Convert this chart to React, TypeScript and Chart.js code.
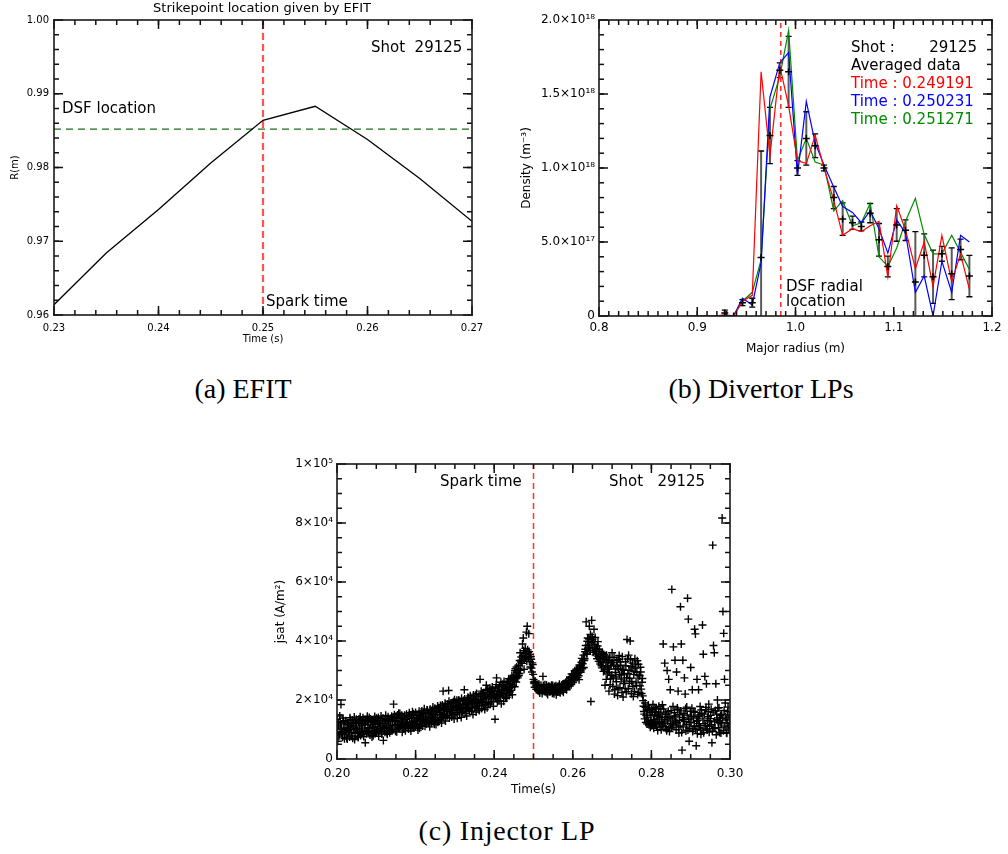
import React, { useEffect, useRef } from "react";
import { Chart, registerables } from "chart.js";
Chart.register(...registerables);

const SANS = '"DejaVu Sans", "Liberation Sans", sans-serif';

// ---------------- (a) EFIT ----------------
const efitTime = [0.23, 0.235, 0.24, 0.245, 0.25, 0.255, 0.26, 0.265, 0.27];
const efitR = [0.9614, 0.9684, 0.9743, 0.9806, 0.9864, 0.9883, 0.9838, 0.9785, 0.9727];
const efitTimeRange = [0.23, 0.27];
const efitRRange = [0.96, 1.0];
const efitTimeTicks = [0.23, 0.24, 0.25, 0.26, 0.27];
const efitTimeTickLabels = ["0.23", "0.24", "0.25", "0.26", "0.27"];
const efitRTicks = [0.96, 0.97, 0.98, 0.99, 1.0];
const efitRTickLabels = ["0.96", "0.97", "0.98", "0.99", "1.00"];
const dsfLocationR = 0.9852;
const sparkTime = 0.25;

// ---------------- (b) Divertor LPs ----------------
const probeR = [
  0.891, 0.9, 0.909, 0.919, 0.928, 0.937, 0.946, 0.956, 0.965, 0.974, 0.984, 0.993,
  1.002, 1.011, 1.02, 1.029, 1.039, 1.048, 1.058, 1.067, 1.076, 1.085, 1.094, 1.103,
  1.112, 1.122, 1.131, 1.14, 1.149, 1.159, 1.168, 1.177,
];
// densities in units of 1e18 m^-3
const densT1 = [
  0, 0, 0, 0, 0.01, 0, 0.1, 0.14, 1.65, 1.08, 1.69, 1.42, 1.05, 1.03, 1.22, 1.0, 0.78,
  0.545, 0.59, 0.57, 0.61, 0.64, 0.265, 0.745, 0.58, 0.32, 0.5, 0.2, 0.545, 0.23, 0.42, 0.18,
];
const densT2 = [
  0, 0, 0, 0, 0, 0, 0.12, 0.075, 0.36, 1.48, 1.71, 1.78, 0.95, 1.45, 1.17, 1.02, 0.87,
  0.74, 0.7, 0.63, 0.71, 0.59, 0.425, 0.65, 0.56, 0.16, 0.27, 0.0, 0.37, 0.16, 0.545, 0.5,
];
const densT3 = [
  0, 0, 0, 0, 0, 0, 0.1, 0.16, 0.38, 1.4, 1.62, 1.93, 1.05, 1.2, 1.04, 1.02, 0.71,
  0.78, 0.61, 0.63, 0.76, 0.4, 0.335, 0.46, 0.64, 0.795, 0.55, 0.42, 0.42, 0.545, 0.43, 0.315,
];
const densAvg = [
  null, null, null, null, 0.02, 0.0, 0.09, 0.09, 0.395, 1.22, 1.66, 1.65, 1.0, 1.2, 1.15, 1.0,
  0.8, 0.655, 0.63, 0.605, 0.695, 0.515, 0.335, 0.615, 0.58, 0.23, 0.41, 0.265, 0.42, 0.285, 0.45, 0.27,
];
const densErr = [
  0, 0, 0, 0, 0.02, 0, 0.02, 0.03, 0.72, 0.19, 0.05, 0.24, 0.05, 0.18, 0.08, 0.02,
  0.075, 0.11, 0.045, 0.03, 0.065, 0.11, 0.07, 0.11, 0.07, 0.34, 0.145, 0.18, 0.05, 0.175, 0.07, 0.14,
];
const probeTimes = ["0.249191", "0.250231", "0.251271"];
const probeColors = ["#ff0000", "#0000ff", "#008a00"];
const radiusRange = [0.8, 1.2];
const densityRange = [0, 2.0];
const radiusTicks = [0.8, 0.9, 1.0, 1.1, 1.2];
const radiusTickLabels = ["0.8", "0.9", "1.0", "1.1", "1.2"];
const densityTicks = [0, 0.5, 1.0, 1.5, 2.0];
const densityTickLabels = ["0", "5.0×10¹⁷", "1.0×10¹⁸", "1.5×10¹⁸", "2.0×10¹⁸"];
const dsfRadialR = 0.985;
const shotNumber = "29125";

// ---------------- (c) Injector LP ----------------
const jsatTimeMs = [
  200.0,200.2,200.4,200.6,200.8,201.0,201.2,201.4,201.6,201.8,
  202.0,202.2,202.4,202.6,202.8,203.0,203.2,203.4,203.6,203.8,
  204.0,204.2,204.4,204.6,204.8,205.0,205.2,205.4,205.6,205.8,
  206.0,206.2,206.4,206.6,206.8,207.0,207.2,207.4,207.6,207.8,
  208.0,208.2,208.4,208.6,208.8,209.0,209.2,209.4,209.6,209.8,
  210.0,210.2,210.4,210.6,210.8,211.0,211.2,211.4,211.6,211.8,
  212.0,212.2,212.4,212.6,212.8,213.0,213.2,213.4,213.6,213.8,
  214.0,214.2,214.4,214.6,214.8,215.0,215.2,215.4,215.6,215.8,
  216.0,216.2,216.4,216.6,216.8,217.0,217.2,217.4,217.6,217.8,
  218.0,218.2,218.4,218.6,218.8,219.0,219.2,219.4,219.6,219.8,
  220.0,220.2,220.4,220.6,220.8,221.0,221.2,221.4,221.6,221.8,
  222.0,222.2,222.4,222.6,222.8,223.0,223.2,223.4,223.6,223.8,
  224.0,224.2,224.4,224.6,224.8,225.0,225.2,225.4,225.6,225.8,
  226.0,226.2,226.4,226.6,226.8,227.0,227.2,227.4,227.6,227.8,
  228.0,228.2,228.4,228.6,228.8,229.0,229.2,229.4,229.6,229.8,
  230.0,230.2,230.4,230.6,230.8,231.0,231.2,231.4,231.6,231.8,
  232.0,232.2,232.4,232.6,232.8,233.0,233.2,233.4,233.6,233.8,
  234.0,234.2,234.4,234.6,234.8,235.0,235.2,235.4,235.6,235.8,
  236.0,236.2,236.4,236.6,236.8,237.0,237.2,237.4,237.6,237.8,
  238.0,238.2,238.4,238.6,238.8,239.0,239.2,239.4,239.6,239.8,
  240.0,240.2,240.4,240.6,240.8,241.0,241.2,241.4,241.6,241.8,
  242.0,242.2,242.4,242.6,242.8,243.0,243.2,243.4,243.6,243.8,
  244.0,244.2,244.4,244.6,244.8,245.0,245.2,245.4,245.6,245.8,
  246.0,246.2,246.4,246.6,246.8,247.0,247.2,247.4,247.6,247.8,
  248.0,248.2,248.4,248.6,248.8,249.0,249.2,249.4,249.6,249.8,
  250.0,250.2,250.4,250.6,250.8,251.0,251.2,251.4,251.6,251.8,
  252.0,252.2,252.4,252.6,252.8,253.0,253.2,253.4,253.6,253.8,
  254.0,254.2,254.4,254.6,254.8,255.0,255.2,255.4,255.6,255.8,
  256.0,256.2,256.4,256.6,256.8,257.0,257.2,257.4,257.6,257.8,
  258.0,258.2,258.4,258.6,258.8,259.0,259.2,259.4,259.6,259.8,
  260.0,260.2,260.4,260.6,260.8,261.0,261.2,261.4,261.6,261.8,
  262.0,262.2,262.4,262.6,262.8,263.0,263.2,263.4,263.6,263.8,
  264.0,264.2,264.4,264.6,264.8,265.0,265.2,265.4,265.6,265.8,
  266.0,266.2,266.4,266.6,266.8,267.0,267.2,267.4,267.6,267.8,
  268.0,268.2,268.4,268.6,268.8,269.0,269.2,269.4,269.6,269.8,
  270.0,270.2,270.4,270.6,270.8,271.0,271.2,271.4,271.6,271.8,
  272.0,272.2,272.4,272.6,272.8,273.0,273.2,273.4,273.6,273.8,
  274.0,274.2,274.4,274.6,274.8,275.0,275.2,275.4,275.6,275.8,
  276.0,276.2,276.4,276.6,276.8,277.0,277.2,277.4,277.6,277.8,
  278.0,278.2,278.4,278.6,278.8,279.0,279.2,279.4,279.6,279.8,
  280.0,280.2,280.4,280.6,280.8,281.0,281.2,281.4,281.6,281.8,
  282.0,282.2,282.4,282.6,282.8,283.0,283.2,283.4,283.6,283.8,
  284.0,284.2,284.4,284.6,284.8,285.0,285.2,285.4,285.6,285.8,
  286.0,286.2,286.4,286.6,286.8,287.0,287.2,287.4,287.6,287.8,
  288.0,288.2,288.4,288.6,288.8,289.0,289.2,289.4,289.6,289.8,
  290.0,290.2,290.4,290.6,290.8,291.0,291.2,291.4,291.6,291.8,
  292.0,292.2,292.4,292.6,292.8,293.0,293.2,293.4,293.6,293.8,
  294.0,294.2,294.4,294.6,294.8,295.0,295.2,295.4,295.6,295.8,
  296.0,296.2,296.4,296.6,296.8,297.0,297.2,297.4,297.6,297.8,
  298.0,298.2,298.4,298.6,298.8,299.0,299.2,299.4,299.6,299.8,
  300.0,
  200.1,200.3,200.5,200.7,200.9,201.1,201.3,201.5,201.7,201.9,
  202.1,202.3,202.5,202.7,202.9,203.1,203.3,203.5,203.7,203.9,
  204.1,204.3,204.5,204.7,204.9,205.1,205.3,205.5,205.7,205.9,
  206.1,206.3,206.5,206.7,206.9,207.1,207.3,207.5,207.7,207.9,
  208.1,208.3,208.5,208.7,208.9,209.1,209.3,209.5,209.7,209.9,
  210.1,210.3,210.5,210.7,210.9,211.1,211.3,211.5,211.7,211.9,
  212.1,212.3,212.5,212.7,212.9,213.1,213.3,213.5,213.7,213.9,
  214.1,214.3,214.5,214.7,214.9,215.1,215.3,215.5,215.7,215.9,
  216.1,216.3,216.5,216.7,216.9,217.1,217.3,217.5,217.7,217.9,
  218.1,218.3,218.5,218.7,218.9,219.1,219.3,219.5,219.7,219.9,
  220.1,220.3,220.5,220.7,220.9,221.1,221.3,221.5,221.7,221.9,
  222.1,222.3,222.5,222.7,222.9,223.1,223.3,223.5,223.7,223.9,
  224.1,224.3,224.5,224.7,224.9,225.1,225.3,225.5,225.7,225.9,
  226.1,226.3,226.5,226.7,226.9,227.1,227.3,227.5,227.7,227.9,
  228.1,228.3,228.5,228.7,228.9,229.1,229.3,229.5,229.7,229.9,
  230.1,230.3,230.5,230.7,230.9,231.1,231.3,231.5,231.7,231.9,
  232.1,232.3,232.5,232.7,232.9,233.1,233.3,233.5,233.7,233.9,
  234.1,234.3,234.5,234.7,234.9,235.1,235.3,235.5,235.7,235.9,
  236.1,236.3,236.5,236.7,236.9,237.1,237.3,237.5,237.7,237.9,
  238.1,238.3,238.5,238.7,238.9,239.1,239.3,239.5,239.7,239.9,
  240.1,240.3,240.5,240.7,240.9,241.1,241.3,241.5,241.7,241.9,
  242.1,242.3,242.5,242.7,242.9,243.1,243.3,243.5,243.7,243.9,
  244.1,244.3,244.5,244.7,244.9,245.1,245.3,245.5,245.7,245.9,
  246.1,246.3,246.5,246.7,246.9,247.1,247.3,247.5,247.7,247.9,
  248.1,248.3,248.5,248.7,248.9,249.1,249.3,249.5,249.7,249.9,
  250.1,250.3,250.5,250.7,250.9,251.1,251.3,251.5,251.7,251.9,
  252.1,252.3,252.5,252.7,252.9,253.1,253.3,253.5,253.7,253.9,
  254.1,254.3,254.5,254.7,254.9,255.1,255.3,255.5,255.7,255.9,
  256.1,256.3,256.5,256.7,256.9,257.1,257.3,257.5,257.7,257.9,
  258.1,258.3,258.5,258.7,258.9,259.1,259.3,259.5,259.7,259.9,
  260.1,260.3,260.5,260.7,260.9,261.1,261.3,261.5,261.7,261.9,
  262.1,262.3,262.5,262.7,262.9,263.1,263.3,263.5,263.7,263.9,
  264.1,264.3,264.5,264.7,264.9,265.1,265.3,265.5,265.7,265.9,
  266.1,266.3,266.5,266.7,266.9,267.1,267.3,267.5,267.7,267.9,
  268.1,268.3,268.5,268.7,268.9,269.1,269.3,269.5,269.7,269.9,
  270.1,270.3,270.5,270.7,270.9,271.1,271.3,271.5,271.7,271.9,
  272.1,272.3,272.5,272.7,272.9,273.1,273.3,273.5,273.7,273.9,
  274.1,274.3,274.5,274.7,274.9,275.1,275.3,275.5,275.7,275.9,
  276.1,276.3,276.5,276.7,276.9,277.1,277.3,277.5,277.7,277.9,
  278.1,278.3,278.5,278.7,278.9,279.1,279.3,279.5,279.7,279.9,
  280.1,280.3,280.5,280.7,280.9,281.1,281.3,281.5,281.7,281.9,
  282.1,282.3,282.5,282.7,282.9,283.1,283.3,283.5,283.7,283.9,
  284.1,284.3,284.5,284.7,284.9,285.1,285.3,285.5,285.7,285.9,
  286.1,286.3,286.5,286.7,286.9,287.1,287.3,287.5,287.7,287.9,
  288.1,288.3,288.5,288.7,288.9,289.1,289.3,289.5,289.7,289.9,
  290.1,290.3,290.5,290.7,290.9,291.1,291.3,291.5,291.7,291.9,
  292.1,292.3,292.5,292.7,292.9,293.1,293.3,293.5,293.7,293.9,
  294.1,294.3,294.5,294.7,294.9,295.1,295.3,295.5,295.7,295.9,
  296.1,296.3,296.5,296.7,296.9,297.1,297.3,297.5,297.7,297.9,
  298.1,298.3,298.5,298.7,298.9,299.1,299.3,299.5,299.7,299.9,
];
// jsat in units of 1e3 A/m^2
const jsatKA = [
  13.5,6.0,11.2,8.3,12.6,18.5,9.0,7.4,12.8,10.1,
  8.2,13.0,9.5,6.8,11.7,10.6,7.5,13.4,9.1,12.0,
  7.0,11.3,14.2,8.6,10.4,12.9,9.2,7.3,13.6,10.8,
  8.0,12.1,10.2,14.0,7.6,11.8,5.5,13.3,9.4,12.5,
  9.0,14.1,8.1,11.6,13.0,12.4,7.9,10.9,14.4,8.8,
  13.8,9.6,12.2,7.7,11.0,10.3,14.6,8.5,12.9,6.3,
  12.0,9.1,14.8,10.7,8.4,14.3,11.2,8.9,13.1,10.0,
  9.5,12.8,18.6,15.0,11.4,12.7,9.2,14.9,10.6,13.8,
  15.4,10.9,12.3,9.1,14.2,11.0,14.8,9.6,13.5,12.1,
  13.9,10.2,15.7,11.8,9.5,12.4,16.0,10.7,14.1,11.3,
  15.8,11.6,13.2,9.8,14.7,10.4,14.9,12.0,16.3,11.2,
  13.6,17.0,11.1,15.2,12.7,16.5,12.3,14.6,10.9,15.9,
  12.1,15.5,17.6,13.3,11.8,14.9,11.7,16.2,18.0,13.0,
  17.1,13.4,15.7,12.2,18.3,23.0,14.0,16.8,12.9,17.7,
  15.3,18.6,23.2,13.9,16.4,18.9,14.2,16.9,19.4,13.6,
  15.0,19.2,17.4,13.8,18.1,20.0,15.6,18.5,14.1,17.2,
  16.1,19.8,23.5,15.4,18.8,14.6,18.0,20.7,16.7,19.5,
  21.0,16.2,18.9,15.1,20.2,17.5,21.6,15.9,19.7,18.2,
  19.9,16.4,27.0,21.8,17.1,22.3,18.0,20.6,16.8,21.1,
  25.0,17.4,21.9,19.1,22.6,18.6,22.8,20.3,23.4,17.9,
  21.7,13.5,24.0,27.5,19.4,23.1,19.8,24.6,21.2,18.7,
  22.0,25.3,19.6,24.1,21.4,24.8,20.9,23.6,26.4,21.5,
  22.7,26.9,24.3,21.8,27.6,28.4,24.5,30.6,26.1,29.3,
  27.5,31.8,29.0,36.0,32.9,33.5,39.0,41.0,30.4,35.8,
  34.6,43.0,45.0,36.2,42.5,35.4,31.2,33.8,29.5,32.0,
  27.0,25.6,26.4,24.8,25.2,24.6,23.1,25.3,22.4,24.0,
  23.5,22.2,28.0,24.4,22.9,24.1,22.6,23.8,21.9,24.7,
  22.8,24.3,23.0,25.0,22.3,23.9,22.1,24.6,23.2,21.8,
  24.4,22.7,23.6,25.3,22.5,23.3,25.1,24.0,22.6,25.6,
  24.2,26.0,23.5,25.4,24.8,26.6,24.7,27.3,25.2,28.0,
  25.9,28.4,26.8,29.5,27.2,30.0,27.6,29.1,26.9,31.2,
  29.4,32.8,30.6,33.5,31.0,34.0,37.2,46.5,35.5,41.0,
  38.6,45.0,36.8,19.5,47.0,40.5,36.2,44.0,38.9,35.3,
  37.4,34.0,39.8,33.1,36.5,32.2,35.8,30.9,34.6,29.7,
  33.7,25.0,31.5,35.2,28.8,30.4,23.0,34.4,27.1,32.6,
  36.0,24.6,31.9,22.0,29.3,27.8,33.4,21.5,30.7,35.1,
  24.2,31.8,28.5,34.7,21.0,30.1,26.4,33.0,22.8,40.5,
  28.9,35.2,25.7,40.0,31.4,26.3,32.5,21.2,29.6,34.0,
  30.8,24.9,33.3,27.4,22.6,28.2,31.1,23.7,26.0,21.4,
  17.9,15.2,19.0,12.4,16.6,14.1,18.3,11.6,15.8,13.0,
  16.7,12.1,18.5,10.4,14.9,11.8,17.2,13.6,9.7,15.3,
  14.4,10.8,16.9,12.7,18.4,39.0,12.2,32.5,15.6,10.1,
  30.0,13.9,27.0,9.3,23.5,16.4,57.5,11.5,38.0,14.2,
  33.5,12.6,29.5,17.3,23.0,8.8,15.0,51.6,39.0,3.0,
  33.5,13.4,27.5,22.0,9.5,17.6,54.5,47.4,6.0,12.3,
  31.0,14.5,23.5,10.2,16.1,44.0,42.4,4.5,27.0,13.1,
  23.5,11.3,17.8,8.4,15.5,45.4,35.5,12.0,28.0,16.7,
  25.5,9.8,14.3,18.6,11.1,13.7,16.9,5.5,72.5,38.5,
  36.0,10.6,25.5,15.2,20.0,12.4,17.4,9.0,14.8,11.9,
  81.7,50.0,42.6,27.0,19.0,13.2,8.7,16.0,10.9,14.6,
  12.0,
  9.2,12.4,7.8,14.6,10.5,11.9,8.7,13.9,10.0,6.9,
  12.6,10.3,7.1,12.2,9.6,8.9,14.0,11.1,7.8,13.2,
  12.3,9.9,6.6,11.9,13.5,10.1,7.7,12.4,9.0,14.3,
  13.1,9.5,11.4,8.3,12.9,9.8,12.9,8.6,14.5,10.7,
  12.5,10.4,13.6,9.2,7.5,10.6,13.3,9.5,11.8,12.9,
  8.9,11.7,14.1,10.2,13.0,12.1,9.4,11.0,13.8,10.6,
  10.4,13.5,11.9,8.9,13.2,12.8,9.7,13.6,11.5,14.5,
  11.3,14.2,10.0,13.0,9.4,14.0,11.6,12.9,15.5,10.5,
  11.2,13.7,14.8,11.9,10.2,13.4,10.5,12.6,15.2,11.7,
  11.3,14.6,12.3,10.4,14.9,13.7,11.0,15.3,12.8,10.9,
  12.2,14.8,10.8,13.9,16.2,13.3,11.5,15.6,12.9,14.4,
  15.7,12.6,14.2,11.9,16.6,13.1,15.3,12.0,16.9,14.0,
  16.3,13.8,12.6,15.1,17.2,13.4,16.6,14.1,12.5,17.4,
  15.1,18.1,13.9,16.5,14.6,17.3,15.0,18.9,14.4,16.2,
  14.7,17.1,19.6,15.9,18.0,16.5,19.0,15.2,17.8,20.1,
  17.9,15.7,19.9,16.4,18.6,16.8,19.4,17.6,20.6,15.8,
  18.4,16.9,20.3,17.5,19.1,17.2,20.9,18.7,16.3,21.4,
  18.6,20.0,17.3,21.7,19.3,20.4,17.8,22.2,19.0,16.9,
  21.2,18.7,20.1,23.0,19.6,19.2,22.5,21.4,18.4,23.3,
  20.5,23.6,18.9,21.3,24.0,21.6,19.5,24.4,22.1,20.8,
  23.0,21.1,25.2,20.4,22.9,21.7,24.8,22.5,26.0,23.4,
  24.6,22.3,26.3,23.8,20.6,22.1,25.9,23.2,27.2,24.3,
  25.7,23.3,28.1,25.1,26.3,26.8,29.9,27.4,31.2,28.0,
  30.6,28.3,33.4,30.1,34.6,32.4,35.1,36.7,33.9,37.5,
  35.8,33.1,37.0,34.4,36.4,33.0,34.7,30.8,32.6,28.7,
  26.1,24.3,25.9,23.6,24.9,23.4,24.8,22.9,23.7,25.0,
  24.0,23.0,24.9,23.4,25.2,23.2,25.1,22.4,24.4,23.5,
  24.6,22.9,24.0,23.6,24.9,22.6,24.2,23.5,24.8,22.9,
  23.9,24.7,22.8,24.1,23.5,24.7,23.1,25.4,23.8,24.4,
  25.1,24.0,26.5,24.6,25.7,25.6,27.8,26.1,28.8,26.9,
  28.0,27.1,29.9,28.6,30.4,28.7,30.6,28.2,31.9,29.9,
  31.7,34.1,32.3,35.2,33.4,36.4,38.5,35.9,39.9,37.6,
  40.7,37.9,42.2,39.4,41.5,37.6,39.8,36.9,41.2,37.1,
  35.6,38.3,34.8,37.2,33.9,34.0,31.6,36.1,32.8,35.4,
  30.2,34.6,27.0,32.9,31.1,33.5,29.4,25.2,31.7,28.4,
  32.7,27.4,34.5,23.5,30.5,26.2,31.3,23.9,33.8,28.6,
  32.9,27.1,22.5,30.3,25.6,29.0,23.9,31.6,27.6,33.9,
  23.8,30.1,27.3,33.6,22.1,30.9,24.6,28.7,22.9,31.9,
  25.8,29.4,21.9,32.1,28.4,24.8,29.5,22.2,27.3,19.8,
  16.1,13.6,17.5,14.7,11.9,16.4,12.5,17.0,10.8,14.8,
  11.3,15.8,13.3,17.4,12.6,16.0,10.9,14.6,12.3,17.9,
  12.2,15.9,9.9,14.1,11.5,17.0,13.4,11.0,15.1,9.6,
  12.9,16.2,10.7,14.4,12.1,10.5,13.6,17.8,11.9,15.7,
  14.6,9.9,12.4,16.7,10.8,13.1,11.2,16.3,9.0,14.1,
  10.9,15.5,12.7,17.1,11.6,14.9,9.8,13.5,10.4,16.2,
  12.4,17.2,9.3,13.9,11.1,15.8,10.0,12.8,8.6,14.4,
  12.0,14.9,10.5,16.6,9.7,13.6,8.9,15.2,11.4,17.5,
  10.2,13.0,16.0,9.1,12.6,14.8,11.6,9.4,15.9,10.3,
  12.9,16.4,8.2,13.3,17.3,10.6,14.0,12.3,8.8,15.1,
  13.7,9.6,16.5,11.2,14.2,8.9,12.4,17.6,10.5,13.9,
];
const jsatTimeRange = [0.2, 0.3];
const jsatRange = [0, 100000];
const jsatTimeTicks = [0.2, 0.22, 0.24, 0.26, 0.28, 0.3];
const jsatTimeTickLabels = ["0.20", "0.22", "0.24", "0.26", "0.28", "0.30"];
const jsatTicks = [0, 20000, 40000, 60000, 80000, 100000];
const jsatTickLabels = ["0", "2×10⁴", "4×10⁴", "6×10⁴", "8×10⁴", "1×10⁵"];

// ---------------- helpers ----------------
type TextItem = { text: string; x: number; y: number; size: number; color?: string; align?: CanvasTextAlign };

function axis(o: {
  range: number[]; ticks: number[]; labels: string[]; horizontal: boolean; size: number;
  font: number; tickPad: number; title: string; titleFont: number; titlePad: any;
}) {
  return {
    type: "linear",
    min: o.range[0],
    max: o.range[1],
    afterBuildTicks: (s: any) => { s.ticks = o.ticks.map((v) => ({ value: v })); },
    afterFit: (s: any) => {
      if (o.horizontal) s.height = o.size; else s.width = o.size;
      s.paddingLeft = 0; s.paddingRight = 0; s.paddingTop = 0; s.paddingBottom = 0;
    },
    grid: { display: false, drawTicks: false },
    border: { display: false },
    ticks: {
      autoSkip: false, maxRotation: 0, minRotation: 0, padding: o.tickPad, color: "#000",
      font: { family: SANS, size: o.font },
      callback: (_v: any, i: number) => o.labels[i],
    },
    title: { display: true, text: o.title, color: "#000", font: { family: SANS, size: o.titleFont }, padding: o.titlePad },
  };
}

// Inward IDL-style tick marks on all four sides, plus the frame.
function frameTicks(xMinor: number, yMinor: number, xRange: number[], yRange: number[], xMajor: number[], yMajor: number[]) {
  const MAJOR = 9;
  const MINOR = 5;
  const W = 1.5;
  return {
    id: "frameTicks",
    afterDraw(chart: any) {
      const ctx = chart.ctx;
      const a = chart.chartArea;
      const xs = chart.scales["x"];
      const ys = chart.scales["y"];
      const L = a.left, R = a.right, T = a.top, B = a.bottom;
      ctx.save();
      ctx.fillStyle = "#111111";
      const tx = (v: number, len: number) => {
        const p = xs.getPixelForValue(v);
        ctx.fillRect(p - W / 2, B - len, W, len);
        ctx.fillRect(p - W / 2, T, W, len);
      };
      const ty = (v: number, len: number) => {
        const p = ys.getPixelForValue(v);
        ctx.fillRect(L, p - W / 2, len, W);
        ctx.fillRect(R - len, p - W / 2, len, W);
      };
      const nx = Math.round((xRange[1] - xRange[0]) / xMinor);
      for (let i = 1; i < nx; i++) tx(xRange[0] + i * xMinor, MINOR);
      const ny = Math.round((yRange[1] - yRange[0]) / yMinor);
      for (let i = 1; i < ny; i++) ty(yRange[0] + i * yMinor, MINOR);
      for (const v of xMajor) tx(v, MAJOR);
      for (const v of yMajor) ty(v, MAJOR);
      ctx.fillStyle = "#1a1a1a";
      ctx.fillRect(L - 0.8, T - 0.8, R - L + 1.6, 1.6);
      ctx.fillRect(L - 0.8, B - 0.8, R - L + 1.6, 1.6);
      ctx.fillRect(L - 0.8, T - 0.8, 1.6, B - T + 1.6);
      ctx.fillRect(R - 0.8, T - 0.8, 1.6, B - T + 1.6);
      ctx.restore();
    },
  };
}

function texts(items: TextItem[]) {
  return {
    id: "texts",
    afterDraw(chart: any) {
      const ctx = chart.ctx;
      items.forEach((it) => {
        ctx.save();
        ctx.font = `${it.size}px ${SANS}`;
        ctx.fillStyle = it.color || "#000";
        ctx.textAlign = it.align || "left";
        ctx.textBaseline = "middle";
        ctx.fillText(it.text, it.x, it.y);
        ctx.restore();
      });
    },
  };
}

function errorBars(xv: number[], yv: (number | null)[], ev: number[]) {
  return {
    id: "errorBars",
    beforeDatasetsDraw(chart: any) {
      const { ctx, chartArea: a } = chart;
      const xs = chart.scales.x, ys = chart.scales.y;
      ctx.save();
      ctx.beginPath();
      ctx.rect(a.left, a.top, a.right - a.left, a.bottom - a.top);
      ctx.clip();
      xv.forEach((x, i) => {
        const y = yv[i];
        const e = ev[i];
        if (y == null || !e) return;
        const px = xs.getPixelForValue(x);
        const top = ys.getPixelForValue(y + e);
        const bot = ys.getPixelForValue(y - e);
        ctx.strokeStyle = "#5a5a5a";
        ctx.lineWidth = 2;
        ctx.beginPath(); ctx.moveTo(px, top); ctx.lineTo(px, bot); ctx.stroke();
        ctx.strokeStyle = "#000";
        ctx.lineWidth = 1.3;
        ctx.beginPath();
        ctx.moveTo(px - 3, top); ctx.lineTo(px + 3, top);
        ctx.moveTo(px - 3, bot); ctx.lineTo(px + 3, bot);
        ctx.stroke();
      });
      ctx.restore();
    },
  };
}

const baseOptions = (padding: any, scales: any) => ({
  responsive: false,
  animation: false,
  devicePixelRatio: 1,
  events: [],
  layout: { padding },
  plugins: { legend: { display: false }, tooltip: { enabled: false }, title: { display: false } },
  scales,
});

const lineDs = (data: any[], color: string, width: number, dash: number[] = []) => ({
  data, showLine: true, borderColor: color, borderWidth: width, borderDash: dash,
  pointRadius: 0, fill: false, tension: 0,
});

// ---------------- chart builders ----------------
function buildEfit(): any {
  return {
    type: "scatter",
    data: {
      datasets: [
        lineDs(efitTime.map((t, i) => ({ x: t, y: efitR[i] })), "#000", 1.3),
        lineDs(efitTimeRange.map((t) => ({ x: t, y: dsfLocationR })), "#1c6b1c", 1.2, [7, 5]),
        lineDs(efitRRange.map((r) => ({ x: sparkTime, y: r })), "#ff5454", 2.2, [7, 4]),
      ],
    },
    options: baseOptions({ left: 0, top: 20, right: 28, bottom: 0 }, {
      x: axis({ range: efitTimeRange, ticks: efitTimeTicks, labels: efitTimeTickLabels, horizontal: true, size: 35, font: 10, tickPad: 7, title: "Time (s)", titleFont: 10, titlePad: { top: 0, bottom: 5 } }),
      y: axis({ range: efitRRange, ticks: efitRTicks, labels: efitRTickLabels, horizontal: false, size: 54, font: 10, tickPad: 5, title: "R(m)", titleFont: 10, titlePad: { top: 9, bottom: 0 } }),
    }),
    plugins: [
      texts([
        { text: "Strikepoint location given by EFIT", x: 262, y: 9, size: 13, align: "center" },
        { text: "Shot  " + shotNumber, x: 371, y: 48, size: 15 },
        { text: "DSF location", x: 62, y: 109, size: 15 },
        { text: "Spark time", x: 266, y: 302, size: 15 },
      ]),
      frameTicks(0.002, 0.002, efitTimeRange, efitRRange, efitTimeTicks, efitRTicks),
    ],
  };
}

function buildDivertor(): any {
  const series = [densT1, densT2, densT3];
  const avgPts = probeR
    .map((r, i) => ({ x: r, y: densAvg[i] }))
    .filter((p) => p.y !== null && p.x > 0.92);
  return {
    type: "scatter",
    data: {
      datasets: [
        { data: avgPts, showLine: false, pointStyle: "cross", pointRadius: 3.5, borderColor: "#000", borderWidth: 1.5, backgroundColor: "#000" },
        ...series.map((s, k) => lineDs(probeR.map((r, i) => ({ x: r, y: s[i] })), probeColors[k], 1.2)),
        lineDs(densityRange.map((d) => ({ x: dsfRadialR, y: d })), "#ff3030", 1.6, [5, 4]),
      ],
    },
    options: baseOptions({ left: 0, top: 20, right: 16, bottom: 0 }, {
      x: axis({ range: radiusRange, ticks: radiusTicks, labels: radiusTickLabels, horizontal: true, size: 44, font: 12, tickPad: 5, title: "Major radius (m)", titleFont: 12, titlePad: { top: 0, bottom: 4 } }),
      y: axis({ range: densityRange, ticks: densityTicks, labels: densityTickLabels, horizontal: false, size: 99, font: 12, tickPad: 4, title: "Density (m⁻³)", titleFont: 12, titlePad: { top: 20, bottom: 0 } }),
    }),
    plugins: [
      errorBars(probeR, densAvg, densErr),
      texts([
        { text: "Shot :", x: 351, y: 48, size: 15 },
        { text: shotNumber, x: 477, y: 48, size: 15, align: "right" },
        { text: "Averaged data", x: 351, y: 66, size: 15 },
        { text: "Time : " + probeTimes[0], x: 351, y: 84, size: 15, color: probeColors[0] },
        { text: "Time : " + probeTimes[1], x: 351, y: 102, size: 15, color: probeColors[1] },
        { text: "Time : " + probeTimes[2], x: 351, y: 120, size: 15, color: probeColors[2] },
        { text: "DSF radial", x: 286, y: 287, size: 15 },
        { text: "location", x: 286, y: 302, size: 15 },
      ]),
      frameTicks(0.01, 0.1, radiusRange, densityRange, radiusTicks, densityTicks),
    ],
  };
}

function buildInjector(): any {
  const pts = jsatTimeMs.map((t, i) => ({ x: t / 1000, y: jsatKA[i] * 1000 }));
  return {
    type: "scatter",
    data: {
      datasets: [
        { data: pts, showLine: false, pointStyle: "cross", pointRadius: 4, borderColor: "#000", borderWidth: 1.4, backgroundColor: "#000" },
        lineDs(jsatRange.map((v) => ({ x: sparkTime, y: v })), "#ff3030", 1.5, [6, 4]),
      ],
    },
    options: baseOptions({ left: 0, top: 14, right: 30, bottom: 0 }, {
      x: axis({ range: jsatTimeRange, ticks: jsatTimeTicks, labels: jsatTimeTickLabels, horizontal: true, size: 41, font: 12, tickPad: 8, title: "Time(s)", titleFont: 12, titlePad: { top: 0, bottom: 3 } }),
      y: axis({ range: jsatRange, ticks: jsatTicks, labels: jsatTickLabels, horizontal: false, size: 67, font: 12, tickPad: 4, title: "jsat (A/m²)", titleFont: 12, titlePad: { top: 4, bottom: 0 } }),
    }),
    plugins: [
      texts([
        { text: "Spark time", x: 170, y: 32, size: 15 },
        { text: "Shot   " + shotNumber, x: 339, y: 32, size: 15 },
      ]),
      frameTicks(0.005, 5000, jsatTimeRange, jsatRange, jsatTimeTicks, jsatTicks),
    ],
  };
}

function ChartCanvas(props: { left: number; top: number; width: number; height: number; build: () => any }) {
  const ref = useRef<HTMLCanvasElement>(null);
  useEffect(() => {
    const chart = new Chart(ref.current as HTMLCanvasElement, props.build());
    return () => chart.destroy();
  }, []);
  return (
    <canvas
      ref={ref}
      width={props.width}
      height={props.height}
      style={{ position: "absolute", left: props.left, top: props.top, width: props.width, height: props.height }}
    />
  );
}

const captionStyle: React.CSSProperties = {
  position: "absolute",
  transform: "translate(-50%, -50%)",
  fontFamily: '"Liberation Serif", "DejaVu Serif", serif',
  fontSize: 28,
  whiteSpace: "nowrap",
  color: "#000",
  lineHeight: 1,
};

export default function App() {
  return (
    <div style={{ position: "absolute", left: 0, top: 0, width: 1008, height: 854, background: "#fff", overflow: "hidden" }}>
      <ChartCanvas left={0} top={0} width={500} height={350} build={buildEfit} />
      <ChartCanvas left={500} top={0} width={508} height={360} build={buildDivertor} />
      <ChartCanvas left={270} top={450} width={490} height={350} build={buildInjector} />
      <div style={{ ...captionStyle, left: 243, top: 389 }}>(a) EFIT</div>
      <div style={{ ...captionStyle, left: 761, top: 389 }}>(b) Divertor LPs</div>
      <div style={{ ...captionStyle, left: 507, top: 831, letterSpacing: 0.8 }}>(c) Injector LP</div>
    </div>
  );
}
